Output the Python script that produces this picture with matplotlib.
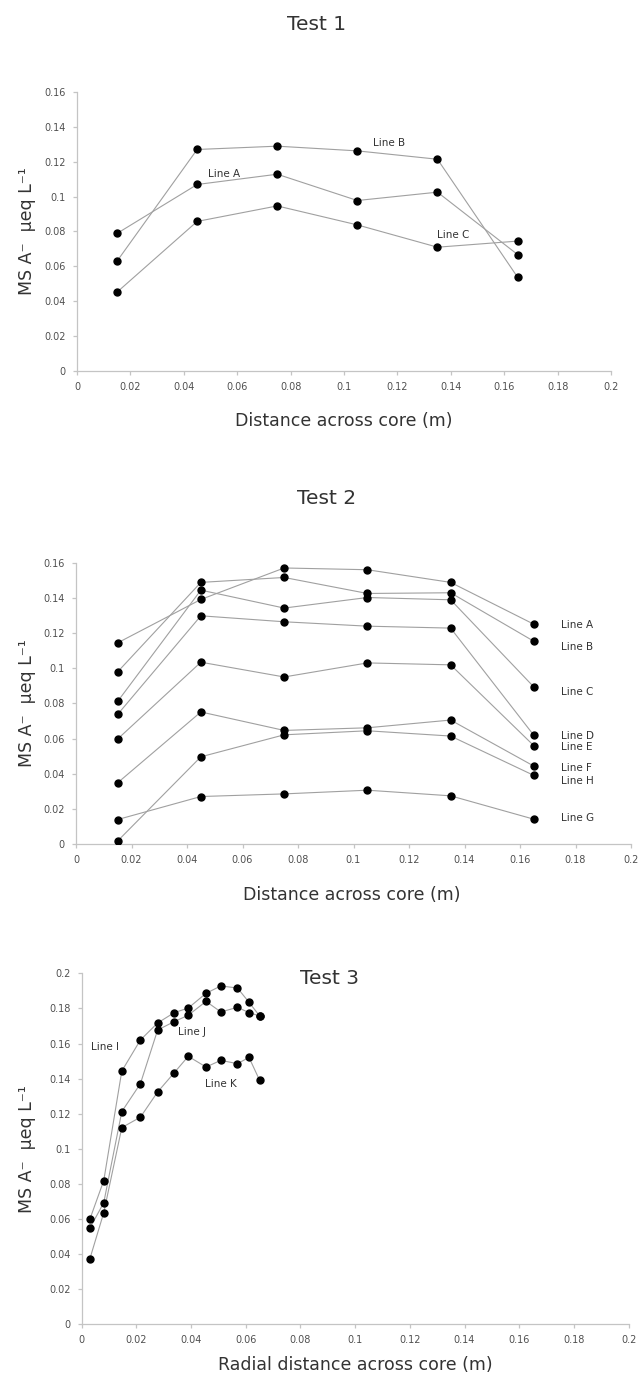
import matplotlib
matplotlib.use("Agg")
import matplotlib.pyplot as plt
import numpy as np

# ---------------- data ----------------
x12 = [0.015, 0.045, 0.075, 0.105, 0.135, 0.165]

t1_names = ["Line A", "Line B", "Line C"]
t1_lineA = [0.0788, 0.1069, 0.1128, 0.0977, 0.1025, 0.0667]
t1_lineB = [0.0629, 0.1270, 0.1289, 0.1262, 0.1214, 0.0537]
t1_lineC = [0.0451, 0.0857, 0.0946, 0.0837, 0.0709, 0.0744]
t1_label_xy = [(0.0551, 0.1128), (0.117, 0.131), (0.1408, 0.0778)]

t2_names = ["Line A", "Line B", "Line C", "Line D", "Line E", "Line F", "Line H", "Line G"]
t2_lineA = [0.1144, 0.1391, 0.1570, 0.1560, 0.1488, 0.1250]
t2_lineB = [0.0979, 0.1488, 0.1516, 0.1425, 0.1429, 0.1153]
t2_lineC = [0.0811, 0.1444, 0.1342, 0.1402, 0.1389, 0.0893]
t2_lineD = [0.0737, 0.1298, 0.1264, 0.1239, 0.1228, 0.0618]
t2_lineE = [0.0597, 0.1034, 0.0950, 0.1030, 0.1019, 0.0559]
t2_lineF = [0.0348, 0.0751, 0.0646, 0.0661, 0.0705, 0.0443]
t2_lineH = [0.0017, 0.0496, 0.0621, 0.0644, 0.0614, 0.0390]
t2_lineG = [0.0139, 0.0270, 0.0285, 0.0306, 0.0274, 0.0141]
t2_label_y = [0.1246, 0.1119, 0.0863, 0.0616, 0.0550, 0.0431, 0.0357, 0.0146]
t2_label_x = 0.1748

x3 = [0.0030, 0.0081, 0.0147, 0.0215, 0.0278, 0.0339, 0.0390, 0.0455, 0.0509, 0.0570, 0.0612, 0.0651]
t3_names = ["Line I", "Line J", "Line K"]
t3_lineI = [0.0598, 0.0819, 0.1443, 0.1620, 0.1717, 0.1776, 0.1802, 0.1886, 0.1928, 0.1916, 0.1835, 0.1757]
t3_lineJ = [0.0547, 0.0693, 0.1212, 0.1371, 0.1677, 0.1725, 0.1761, 0.1840, 0.1780, 0.1806, 0.1776, 0.1757]
t3_lineK = [0.0372, 0.0636, 0.1121, 0.1180, 0.1324, 0.1434, 0.1527, 0.1466, 0.1504, 0.1485, 0.1521, 0.1390]
t3_label_xy = [(0.0084, 0.1578), (0.0402, 0.1668), (0.0508, 0.1370)]

x_ticks = [0, 0.02, 0.04, 0.06, 0.08, 0.1, 0.12, 0.14, 0.16, 0.18, 0.2]
y_ticks_12 = [0, 0.02, 0.04, 0.06, 0.08, 0.1, 0.12, 0.14, 0.16]
y_ticks_3 = [0, 0.02, 0.04, 0.06, 0.08, 0.1, 0.12, 0.14, 0.16, 0.18, 0.2]

titles = ["Test 1", "Test 2", "Test 3"]
xlabels = ["Distance across core (m)", "Distance across core (m)", "Radial distance across core (m)"]
ylabel = "MS A\u207b  \u03bceq L\u207b\u00b9"

# ---------------- style ----------------
W, H = 640, 1384
fig = plt.figure(figsize=(W / 100, H / 100), dpi=100)
FONT = ["DejaVu Sans"]
LINE_C = "#a0a0a0"
AX_C = "#c4c4c4"
TXT_C = "#333333"


def fmt(v):
    return "0" if v == 0 else ("%g" % v)


def make_axes(px_left, px_right, px_bottom, px_top):
    ax = fig.add_axes([px_left / W, 1 - px_bottom / H,
                       (px_right - px_left) / W, (px_bottom - px_top) / H])
    for s in ["top", "right"]:
        ax.spines[s].set_visible(False)
    for s in ["left", "bottom"]:
        ax.spines[s].set_color(AX_C)
        ax.spines[s].set_linewidth(0.9)
    ax.tick_params(colors=AX_C, labelcolor="#505050", labelsize=7, length=3,
                   width=0.9, direction="out", pad=5)
    return ax


def draw(ax, xs, series):
    for ys in series:
        ax.plot(xs, ys, color=LINE_C, lw=0.8, zorder=2)
        ax.plot(xs, ys, 'o', color="black", ms=5, zorder=3)


def finish(ax, yticks):
    ax.set_xlim(0, 0.2)
    ax.set_ylim(0, yticks[-1])
    ax.set_xticks(x_ticks)
    ax.set_xticklabels([fmt(v) for v in x_ticks], family=FONT)
    ax.set_yticks(yticks)
    ax.set_yticklabels([fmt(v) for v in yticks], family=FONT)
    for lab in ax.get_xticklabels() + ax.get_yticklabels():
        lab.set_fontsize(7)


# Test 1
ax1 = make_axes(77, 611, 370.7, 92)
draw(ax1, x12, [t1_lineA, t1_lineB, t1_lineC])
finish(ax1, y_ticks_12)
for name, (lx, ly) in zip(t1_names, t1_label_xy):
    ax1.text(lx, ly, name, fontsize=7.5, ha="center", va="center", color=TXT_C, family=FONT)

# Test 2
ax2 = make_axes(76, 631, 844, 562.7)
draw(ax2, x12, [t2_lineA, t2_lineB, t2_lineC, t2_lineD, t2_lineE, t2_lineF, t2_lineH, t2_lineG])
finish(ax2, y_ticks_12)
for name, ly in zip(t2_names, t2_label_y):
    ax2.text(t2_label_x, ly, name, fontsize=7.5, ha="left", va="center", color=TXT_C, family=FONT)

# Test 3
ax3 = make_axes(81.6, 628.6, 1324.3, 973.3)
draw(ax3, x3, [t3_lineI, t3_lineJ, t3_lineK])
finish(ax3, y_ticks_3)
for name, (lx, ly) in zip(t3_names, t3_label_xy):
    ax3.text(lx, ly, name, fontsize=7.5, ha="center", va="center", color=TXT_C, family=FONT)

# titles, axis labels
title_pos = [(317, 25), (327, 498), (330, 978)]
xlabel_pos = [(344, 421), (352, 895), (355, 1365)]
ylabel_pos = [(27, 231), (27, 703), (27, 1149)]
for t, (tx, ty) in zip(titles, title_pos):
    fig.text(tx / W, 1 - ty / H, t, fontsize=14.5, ha="center", va="center", color=TXT_C, family=FONT)
for t, (tx, ty) in zip(xlabels, xlabel_pos):
    fig.text(tx / W, 1 - ty / H, t, fontsize=12.5, ha="center", va="center", color=TXT_C, family=FONT)
for (tx, ty) in ylabel_pos:
    fig.text(tx / W, 1 - ty / H, ylabel, fontsize=12.5, ha="center", va="center", rotation=90,
             color=TXT_C, family=FONT)

fig.savefig("out.png", dpi=100, facecolor="white")
